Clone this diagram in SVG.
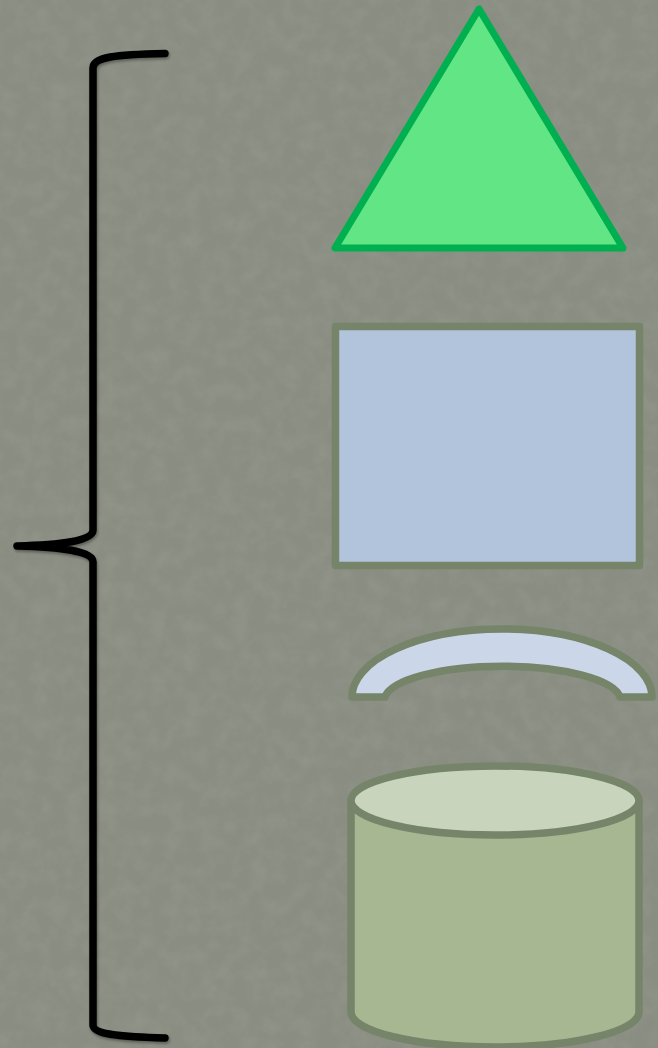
<svg xmlns="http://www.w3.org/2000/svg" width="658" height="1048" viewBox="0 0 658 1048">
<defs>
<filter id="tex" x="0" y="0" width="100%" height="100%">
<feTurbulence type="fractalNoise" baseFrequency="0.06" numOctaves="4" seed="3" result="n"/>
<feColorMatrix in="n" type="matrix" values="0 0 0 0 0.45  0 0 0 0 0.47  0 0 0 0 0.42  0 0 0 -1.6 1.05"/>
</filter>
<filter id="sh" x="-20%" y="-5%" width="140%" height="110%">
<feGaussianBlur in="SourceAlpha" stdDeviation="1.5"/>
<feOffset dx="1" dy="1.5" result="b"/>
<feComponentTransfer><feFuncA type="linear" slope="0.35"/></feComponentTransfer>
<feMerge><feMergeNode/><feMergeNode in="SourceGraphic"/></feMerge>
</filter>
</defs>
<style>
.brace{fill:none;stroke:#000;stroke-width:7.5;stroke-linecap:round;stroke-linejoin:round}
.olive{stroke:#76846a;stroke-width:7.5;stroke-linejoin:round}
</style>
<rect width="658" height="1048" fill="#8a8d81"/>
<rect width="658" height="1048" filter="url(#tex)" opacity="0.18"/>
<g id="brace" filter="url(#sh)">
<path class="brace" d="M165,53.5 C115,54.5 93,57 93,68 L93,530 C93,541 60,545 17,546 C60,547 93,551 93,562 L93,1025 C93,1034 115,1036.5 165,1038"/>
</g>
<g id="triangle">
<polygon points="479,9 335,248 623,248" fill="#62e584" stroke="#00b050" stroke-width="7" stroke-linejoin="round"/>
</g>
<g id="rectangle">
<rect x="335.5" y="326.5" width="304" height="239" fill="#b2c4db" class="olive"/>
</g>
<g id="arc">
<path class="olive" fill="#cbd7e8" d="M352,697 A150,68 0 0 1 652,697 L620,697 A118,34 0 0 0 385,697 Z"/>
</g>
<g id="cylinder">
<path class="olive" fill="#a7b792" d="M351,800.5 L351,1012 A144,35 0 0 0 639,1012 L639,800.5 Z"/>
<ellipse class="olive" cx="495" cy="800.5" rx="144" ry="34.5" fill="#c9d4bd"/>
</g>
</svg>
